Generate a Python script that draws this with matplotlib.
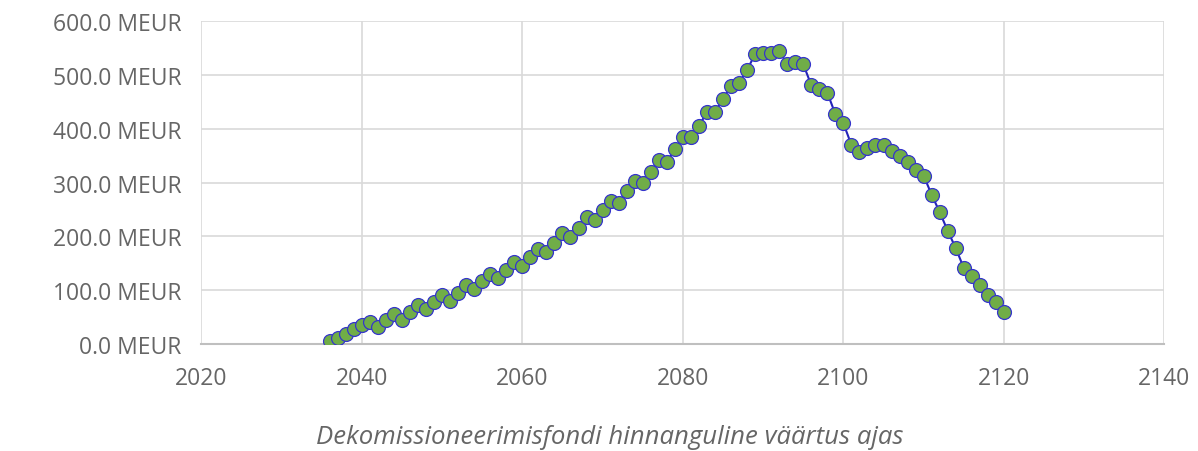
import numpy as np
import matplotlib.pyplot as plt
from matplotlib.ticker import FuncFormatter

# Aastad ja hinnanguline väärtus (MEUR)
aastad = np.arange(2036, 2121)
vaartus = [5, 11, 18, 27, 35, 41, 32, 45, 56, 45,
           60, 73, 64, 78, 91, 80, 95, 110, 102, 117,
           130, 123, 137, 152, 145, 162, 176, 170, 188, 206,
           199, 216, 236, 230, 249, 266, 262, 284, 303, 299,
           320, 342, 338, 362, 384, 384, 405, 431, 431, 455,
           480, 485, 509, 539, 541, 541, 545, 520, 524, 520,
           481, 474, 467, 427, 410, 370, 356, 364, 370, 370,
           359, 349, 338, 324, 313, 277, 245, 210, 178, 141,
           127, 110, 91, 78, 60]

plt.rcParams['font.family'] = ['Open Sans', 'DejaVu Sans']

fig = plt.figure(figsize=(11.98, 4.52), dpi=100)
ax = fig.add_axes([0.168, 0.237, 0.804, 0.714])

ax.plot(aastad, vaartus, color='#2424B8', linewidth=1.5, marker='o',
        markersize=10, markerfacecolor='#70AD47', markeredgecolor='#3535CC',
        markeredgewidth=0.9, zorder=3)

ax.set_xlim(2020, 2140)
ax.set_ylim(0, 600)
ax.set_xticks(range(2020, 2141, 20))
ax.set_yticks(range(0, 601, 100))
ax.yaxis.set_major_formatter(FuncFormatter(lambda v, p: f'{v:.1f} MEUR'))

ax.grid(True, color='#D9D9D9', linewidth=1.2)
ax.set_axisbelow(True)
for s in ['top', 'right', 'left']:
    ax.spines[s].set_visible(False)
ax.spines['bottom'].set_color('#BFBFBF')
ax.spines['bottom'].set_linewidth(1.5)
ax.tick_params(length=0, labelsize=16.5, labelcolor='#666666', pad=14)
ax.tick_params(axis='x', pad=16)

# pealkiri on joonise keskel, mitte telje keskel
fig.text(0.509, 0.005, 'Dekomissioneerimisfondi hinnanguline väärtus ajas',
         fontsize=18.5, style='italic', color='#666666', ha='center', va='bottom')

fig.savefig('out.png', dpi=100)
